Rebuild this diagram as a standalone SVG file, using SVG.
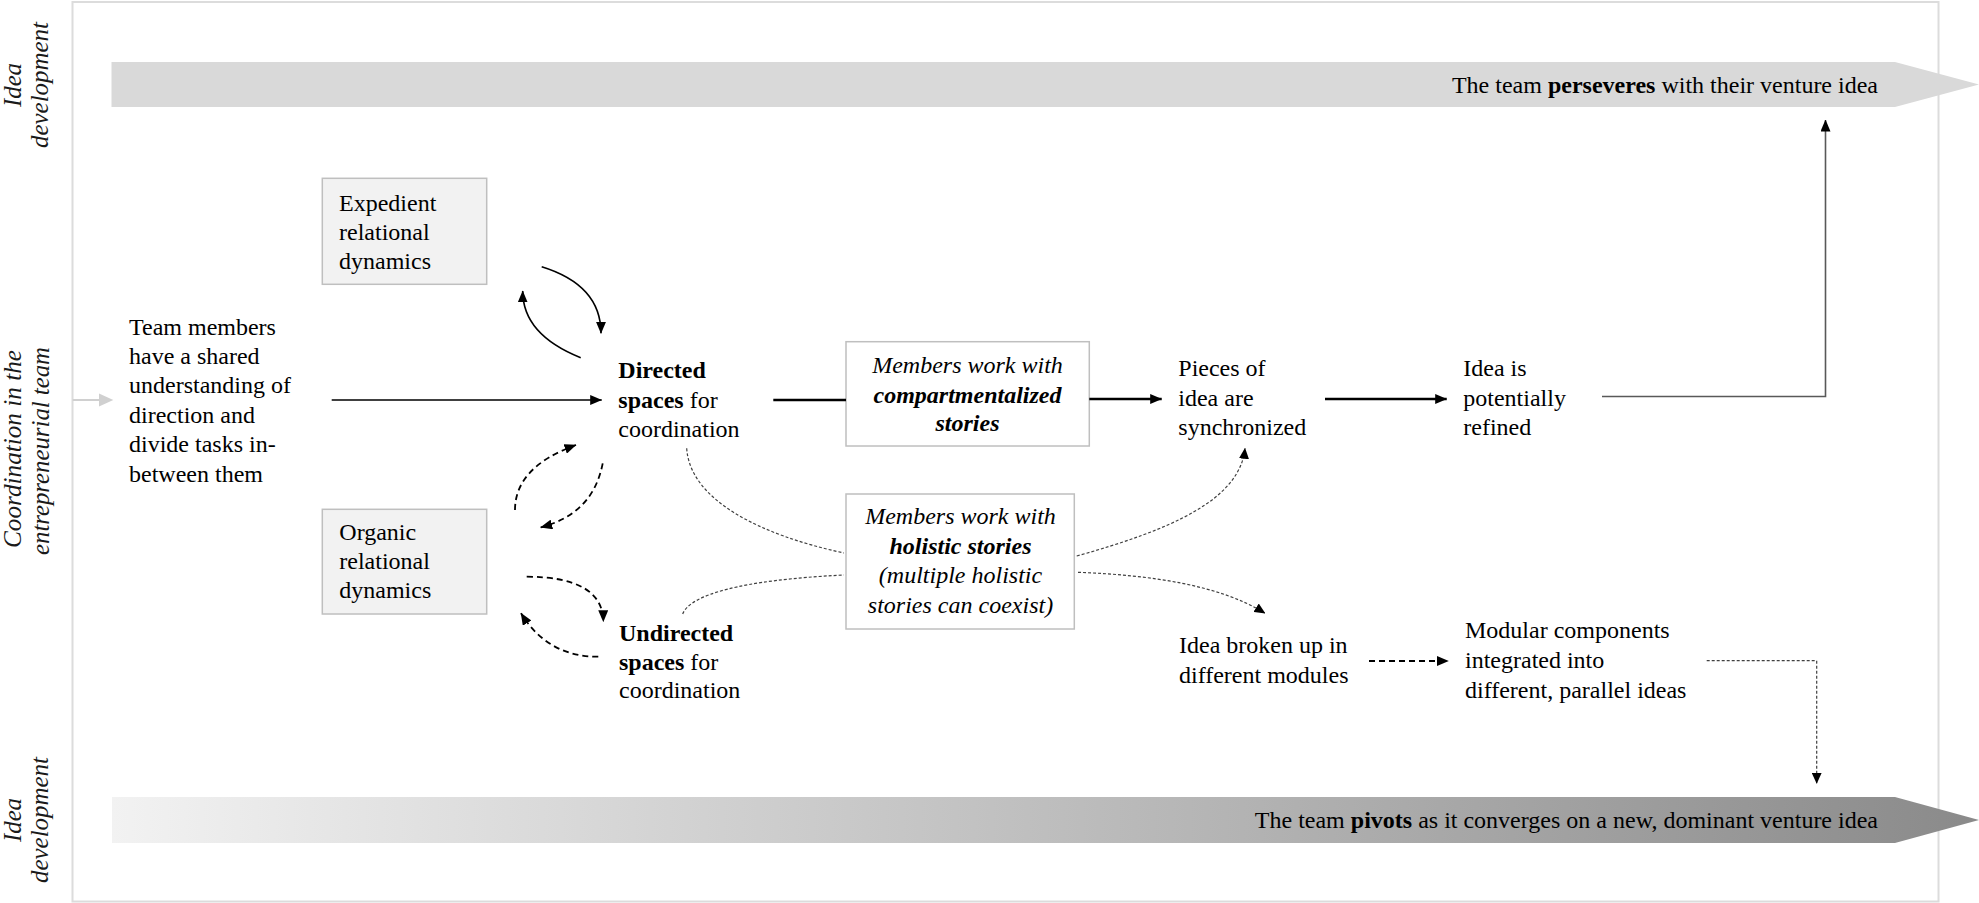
<svg xmlns="http://www.w3.org/2000/svg" width="1979" height="903" viewBox="0 0 1979 903">
<style>
.t{font-family:"Liberation Serif","Times New Roman",serif;font-size:24px;fill:#000}
.b{font-weight:bold}
.i{font-style:italic}
.lab{font-family:"Liberation Serif","Times New Roman",serif;font-size:25px;font-style:italic;fill:#1a1a1a;text-anchor:middle}
.mid{text-anchor:middle}
.end{text-anchor:end}
.gbox{fill:#f2f2f2;stroke:#bfbfbf;stroke-width:1.5}
.wbox{fill:#fff;stroke:#bfbfbf;stroke-width:1.5}
.solid{fill:none;stroke:#000;stroke-width:1.6}
.thick{fill:none;stroke:#000;stroke-width:2.5}
.dash{fill:none;stroke:#000;stroke-width:1.8;stroke-dasharray:6 4}
.dot{fill:none;stroke:#404040;stroke-width:1.2;stroke-dasharray:3 2}
</style>
<defs>
<marker id="ah" viewBox="0 0 12 10" refX="11.5" refY="5" markerWidth="12" markerHeight="10" orient="auto" markerUnits="userSpaceOnUse"><path d="M0,0 L12,5 L0,10 z" fill="#000"/></marker>
<marker id="ahs" viewBox="0 0 11 10" refX="10.5" refY="5" markerWidth="11" markerHeight="10" orient="auto" markerUnits="userSpaceOnUse"><path d="M0,0 L11,5 L0,10 z" fill="#000"/></marker>
<linearGradient id="gpiv" x1="112" y1="0" x2="1979" y2="0" gradientUnits="userSpaceOnUse">
<stop offset="0" stop-color="#f2f2f2"/><stop offset="1" stop-color="#8a8a8a"/>
</linearGradient>
</defs>

<g id="frame">
<rect x="72.5" y="2" width="1866" height="899.5" fill="none" stroke="#dcdcdc" stroke-width="2"/>
</g>

<g id="lane-labels">
<text class="lab" transform="translate(21,85) rotate(-90)" textLength="44" lengthAdjust="spacingAndGlyphs">Idea</text>
<text class="lab" transform="translate(48,85) rotate(-90)" textLength="126" lengthAdjust="spacingAndGlyphs">development</text>
<text class="lab" transform="translate(21,449) rotate(-90)" textLength="198" lengthAdjust="spacingAndGlyphs">Coordination in the</text>
<text class="lab" transform="translate(48.5,451) rotate(-90)" textLength="208" lengthAdjust="spacingAndGlyphs">entrepreneurial team</text>
<text class="lab" transform="translate(21,820) rotate(-90)" textLength="44" lengthAdjust="spacingAndGlyphs">Idea</text>
<text class="lab" transform="translate(48,820) rotate(-90)" textLength="126" lengthAdjust="spacingAndGlyphs">development</text>
</g>

<g id="perseveres">
<polygon points="111.5,62 1895,62 1979,84.5 1895,107 111.5,107" fill="#d9d9d9"/>
<text class="t end" x="1878" y="93.3">The team <tspan class="b">perseveres</tspan> with their venture idea</text>
</g>

<g id="pivots">
<polygon points="112,797 1895,797 1979,820 1895,843 112,843" fill="url(#gpiv)"/>
<text class="t end" x="1878" y="828.3">The team <tspan class="b">pivots</tspan> as it converges on a new, dominant venture idea</text>
</g>

<g id="team-members">
<text class="t" x="129" y="334.5">Team members</text>
<text class="t" x="129" y="364">have a shared</text>
<text class="t" x="129" y="393.3">understanding of</text>
<text class="t" x="129" y="422.7">direction and</text>
<text class="t" x="129" y="452">divide tasks in-</text>
<text class="t" x="129" y="481.5">between them</text>
</g>

<g id="expedient">
<rect class="gbox" x="322.3" y="178.3" width="164.4" height="106"/>
<text class="t" x="339" y="211">Expedient</text>
<text class="t" x="339" y="240">relational</text>
<text class="t" x="339" y="268.5">dynamics</text>
</g>

<g id="organic">
<rect class="gbox" x="322.3" y="509.3" width="164.4" height="104.7"/>
<text class="t" x="339.3" y="540">Organic</text>
<text class="t" x="339.3" y="569">relational</text>
<text class="t" x="339.3" y="597.7">dynamics</text>
</g>

<g id="directed">
<text class="t b" x="618.3" y="378.3">Directed</text>
<text class="t" x="618.3" y="408.3"><tspan class="b">spaces</tspan> for</text>
<text class="t" x="618.3" y="437.3">coordination</text>
</g>

<g id="undirected">
<text class="t b" x="619" y="640.7">Undirected</text>
<text class="t" x="619" y="670"><tspan class="b">spaces</tspan> for</text>
<text class="t" x="619" y="698.3">coordination</text>
</g>

<g id="compartmentalized">
<rect class="wbox" x="846" y="341.7" width="243.3" height="104.3"/>
<text class="t i mid" x="967.5" y="372.7">Members work with</text>
<text class="t i b mid" x="967.5" y="402.7">compartmentalized</text>
<text class="t i b mid" x="967.5" y="431">stories</text>
</g>

<g id="holistic">
<rect class="wbox" x="846" y="494" width="228.3" height="135"/>
<text class="t i mid" x="960.5" y="524.3">Members work with</text>
<text class="t i b mid" x="960.5" y="554.3">holistic stories</text>
<text class="t i mid" x="960.5" y="583.3">(multiple holistic</text>
<text class="t i mid" x="960.5" y="612.7">stories can coexist)</text>
</g>

<g id="pieces">
<text class="t" x="1178.3" y="376">Pieces of</text>
<text class="t" x="1178.3" y="405.5">idea are</text>
<text class="t" x="1178.3" y="435">synchronized</text>
</g>

<g id="refined">
<text class="t" x="1463.3" y="376">Idea is</text>
<text class="t" x="1463.3" y="406">potentially</text>
<text class="t" x="1463.3" y="435">refined</text>
</g>

<g id="broken">
<text class="t" x="1179" y="653.3">Idea broken up in</text>
<text class="t" x="1179" y="683.3">different modules</text>
</g>

<g id="modular">
<text class="t" x="1465" y="638.3">Modular components</text>
<text class="t" x="1465" y="668.3">integrated into</text>
<text class="t" x="1465" y="698.3">different, parallel ideas</text>
</g>

<g id="connectors">
<line x1="72.7" y1="400" x2="100" y2="400" stroke="#d0d0d0" stroke-width="2"/>
<polygon points="99,393.5 113.3,400 99,406.5" fill="#d0d0d0"/>
<line class="solid" x1="331.7" y1="400" x2="601.7" y2="400" marker-end="url(#ah)"/>
<path class="solid" d="M541.7,266.7 Q601,285 601,333.3" marker-end="url(#ah)"/>
<path class="solid" d="M580.7,357.7 Q522.7,334.5 522.7,291" marker-end="url(#ah)"/>
<path class="dash" d="M515,510 Q515,467 576,445" marker-end="url(#ah)"/>
<path class="dash" d="M602.7,463.3 Q593,514 540.7,527.3" marker-end="url(#ah)"/>
<path class="dash" d="M526.7,576.7 Q603,577 603.3,621.7" marker-end="url(#ah)"/>
<path class="dash" d="M598.3,656.7 Q548,657 521,613.3" marker-end="url(#ah)"/>
<line class="thick" x1="773.3" y1="400" x2="846" y2="400"/>
<line class="thick" x1="1089.3" y1="399" x2="1161.7" y2="399" marker-end="url(#ah)"/>
<line class="thick" x1="1325" y1="399" x2="1446.7" y2="399" stroke-width="2.2" marker-end="url(#ah)"/>
<polyline points="1602,396.5 1825.5,396.5 1825.5,120" fill="none" stroke="#595959" stroke-width="1.6" marker-end="url(#ah)"/>
<path class="dot" d="M686.7,448.3 C690,500 760,535 844,553"/>
<path class="dot" d="M682.7,614 C690,595 740,580 844,575"/>
<path class="dot" d="M1076.7,556 C1170,530 1240,500 1245,448.3" marker-end="url(#ahs)"/>
<path class="dot" d="M1078,572.3 C1150,575 1220,585 1265,613.3" marker-end="url(#ahs)"/>
<line class="dash" x1="1369" y1="661" x2="1448.3" y2="661" stroke-width="2" marker-end="url(#ah)"/>
<polyline class="dot" points="1706.7,660.7 1816.7,660.7 1816.7,783.3" marker-end="url(#ahs)"/>
</g>
</svg>
